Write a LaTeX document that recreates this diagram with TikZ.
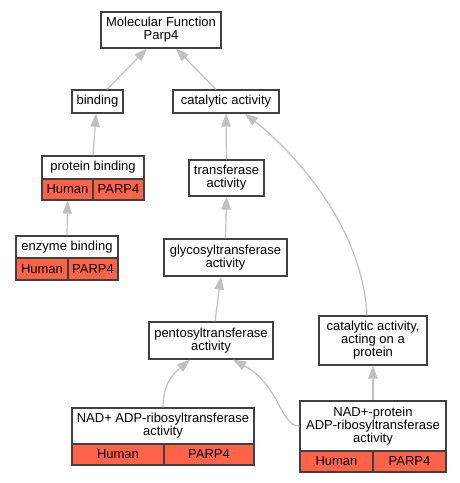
\documentclass[tikz,border=0pt]{standalone}
\usepackage{fontspec}
\setmainfont{Liberation Sans}
\usetikzlibrary{arrows.meta}
\definecolor{edgegray}{HTML}{C0C0C0}
\definecolor{boxline}{HTML}{404040}
\definecolor{orthred}{HTML}{FF6347}
\begin{document}
\begin{tikzpicture}[x=1pt, y=-1pt,
    term/.style={draw=boxline, line width=1.3pt, fill=white, align=center,
      inner sep=0pt, font=\fontsize{13}{13}\selectfont},
    orth/.style={term, fill=orthred},
    link/.style={draw=edgegray, line width=1.2pt, -{Triangle[length=13pt,width=9.5pt]}}]
  \useasboundingbox (0,0) rectangle (460,483);
  % terms
  \node[term, minimum width=120pt, minimum height=36pt] (mf) at (161,30) {Molecular Function\\Parp4};
  \node[term, minimum width=51pt, minimum height=23pt] (bind) at (97.5,101.5) {binding};
  \node[term, minimum width=106pt, minimum height=23pt] (cat) at (226,101.5) {catalytic activity};
  \node[term, minimum width=102pt, minimum height=23pt] (pbind) at (93,167.5) {protein binding};
  \node[orth, minimum width=51pt, minimum height=21pt] (pbindh) at (67.5,189.5) {Human};
  \node[orth, minimum width=51pt, minimum height=21pt] (pbindp) at (118.5,189.5) {PARP4};
  \node[term, minimum width=75pt, minimum height=36pt] (trans) at (226.5,178) {transferase\\activity};
  \node[term, minimum width=102pt, minimum height=22pt] (ebind) at (67,247) {enzyme binding};
  \node[orth, minimum width=52pt, minimum height=22pt] (ebindh) at (42,269) {Human};
  \node[orth, minimum width=50pt, minimum height=22pt] (ebindp) at (93,269) {PARP4};
  \node[term, minimum width=123pt, minimum height=37pt] (glyco) at (225.5,257.5) {glycosyltransferase\\activity};
  \node[term, minimum width=124pt, minimum height=37pt] (pento) at (211,340.5) {pentosyltransferase\\activity};
  \node[term, minimum width=108pt, minimum height=49pt] (capro) at (373,340.5) {catalytic activity,\\acting on a\\protein};
  \node[term, minimum width=182pt, minimum height=36pt] (nadadp) at (163,426) {NAD+ ADP-ribosyltransferase\\activity};
  \node[orth, minimum width=92pt, minimum height=21pt] (nadadph) at (118,454.5) {Human};
  \node[orth, minimum width=90pt, minimum height=21pt] (nadadpp) at (209,454.5) {PARP4};
  \node[term, minimum width=146pt, minimum height=50pt] (nadpro) at (373,426) {NAD+-protein\\ADP-ribosyltransferase\\activity};
  \node[orth, minimum width=73pt, minimum height=21pt] (nadproh) at (336.5,461.5) {Human};
  \node[orth, minimum width=73pt, minimum height=21pt] (nadprop) at (409.5,461.5) {PARP4};
  % is_a links
  \draw[link] ([xshift=9.5pt]bind.north) -- ([xshift=-14pt]mf.south);
  \draw[link] ([xshift=-10pt]cat.north) -- ([xshift=15pt]mf.south);
  \draw[link] (pbind.north) -- ([xshift=-1.5pt]bind.south);
  \draw[link] (ebind.north) -- (pbindh.south);
  \draw[link] (trans.north) -- (cat.south);
  \draw[link] (glyco.north) -- (trans.south);
  \draw[link] ([xshift=4pt]pento.north) -- ([xshift=-4.5pt]glyco.south);
  \draw[link] ([xshift=-6pt]capro.north) .. controls (362,220) and (285,145) .. ([xshift=19pt]cat.south);
  \draw[link] (nadadp.north) .. controls (163,385) and (172,375) .. ([xshift=-21pt]pento.south);
  \draw[link] (nadpro.west) .. controls (280,426) and (280,385) .. ([xshift=22pt]pento.south);
  \draw[link] (nadpro.north) -- (capro.south);
\end{tikzpicture}
\end{document}
